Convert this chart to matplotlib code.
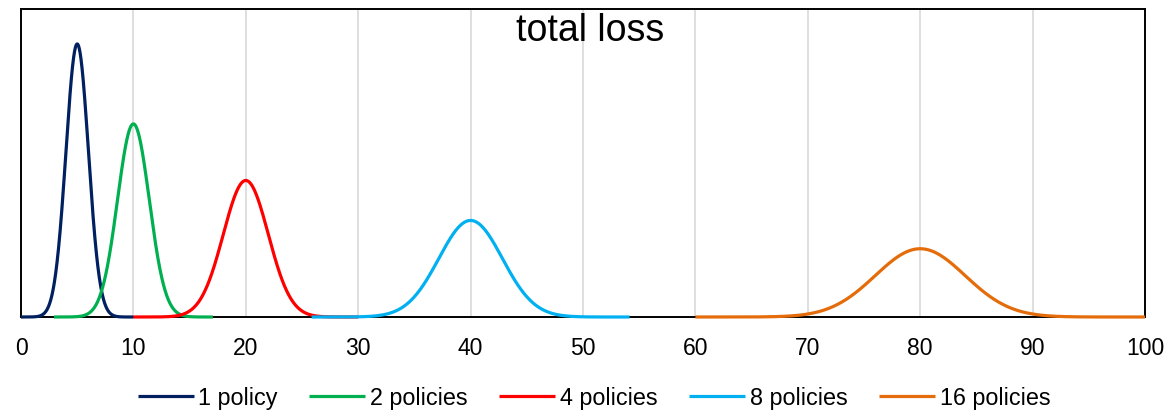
import numpy as np
import matplotlib
matplotlib.use("Agg")
import matplotlib.pyplot as plt

plt.rcParams['font.family'] = ['Liberation Sans', 'DejaVu Sans']

# Portfolio sizes and the normal approximation of total loss for each
labels = ["1 policy", "2 policies", "4 policies", "8 policies", "16 policies"]
n_policies = [1, 2, 4, 8, 16]
means = [5, 10, 20, 40, 80]
sds = [1.0, 1.4142, 2.0, 2.8284, 4.0]
colors = ["#002060", "#00B050", "#FF0000", "#00B0F0", "#E46C0A"]
x_ticks = [0, 10, 20, 30, 40, 50, 60, 70, 80, 90, 100]

fig = plt.figure(figsize=(11.7, 4.14), dpi=100)
ax = fig.add_axes([21 / 1170, 1 - 318 / 414, 1124 / 1170, 308 / 414])

for lab, mu, sd, c in zip(labels, means, sds, colors):
    # each curve spans mean +/- 5 standard deviations
    x = np.linspace(mu - 5 * sd, mu + 5 * sd, 400)
    y = np.exp(-0.5 * ((x - mu) / sd) ** 2) / (sd * np.sqrt(2 * np.pi))
    ax.plot(x, y, color=c, lw=2.3, label=lab, solid_capstyle='butt', clip_on=False, zorder=3)

ax.set_xlim(0, 100)
ax.set_ylim(0, 0.45)
ax.set_xticks(x_ticks)
ax.set_yticks([])
ax.tick_params(axis='x', length=0, pad=14, labelsize=16.5)
ax.grid(axis='x', color='#D9D9D9', lw=1.2)
ax.set_axisbelow(True)
for s in ax.spines.values():
    s.set_color('black')
    s.set_linewidth(1.4)

ax.text(0.506, 0.99, "total loss", transform=ax.transAxes, ha='center', va='top', fontsize=27)

fig.legend(loc='center', bbox_to_anchor=(594 / 1170, 1 - 399 / 414), ncol=5, frameon=False,
           fontsize=16.8, handlelength=2.4, handletextpad=0.2, columnspacing=1.35)

fig.savefig("out.png", dpi=100)
